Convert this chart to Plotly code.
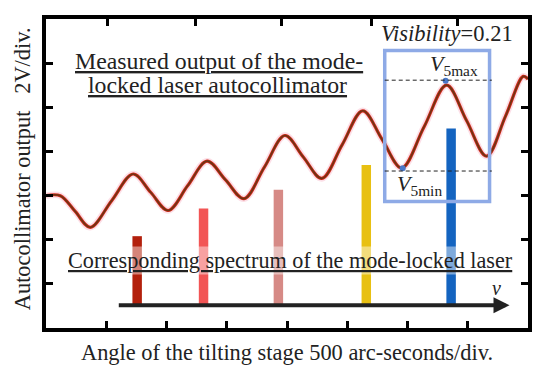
import plotly.graph_objects as go

# ---- data (x in divisions of 500 arc-seconds, y in divisions of 2 V) ----
curve_x = [0.0, 0.237, 0.485, 0.734, 1.09, 1.447, 1.737, 2.027, 2.35, 2.673, 2.98,
           3.286, 3.625, 3.965, 4.27, 4.578, 4.917, 5.257, 5.58, 5.903, 6.276,
           6.649, 6.98, 7.312, 7.627, 7.92, 8.0]
curve_y = [2.997, 2.997, 2.64, 2.281, 2.885, 3.489, 3.075, 2.662, 3.221, 3.780, 3.355,
           2.930, 3.645, 4.361, 3.875, 3.389, 4.155, 4.920, 4.27, 3.623, 4.56,
           5.502, 4.70, 3.892, 4.80, 5.70, 5.64]

bar_x = [1.513, 2.615, 3.857, 5.316, 6.724]
bar_top = [2.080, 2.706, 3.131, 3.690, 4.518]
bar_base = 0.50
bar_colors = ["#b3200c", "#f25555", "#d68a86", "#e8c012", "#1464c0"]

x_ticks_bottom = [1, 2, 3, 4, 5, 6, 7]
x_ticks_top = [1.016, 2.474, 3.915, 5.406, 6.832]
y_ticks = [1, 2, 3, 4, 5, 6]

v_max_level = 5.614
v_min_level = 3.556
v_points_x = [6.633, 5.92]
v_points_y = [5.60, 3.62]

box_x = [5.622, 7.362]
box_y = [2.863, 6.285]
dash_x = [5.622, 7.40]

arrow_x = [1.183, 7.693]
arrow_y = 0.514

FONT = "Times New Roman, Liberation Serif, serif"
TXT = "#222222"


def f(size, **kw):
    return dict(family=FONT, color=TXT, size=size, **kw)


fig = go.Figure()

fig.add_trace(go.Bar(
    x=bar_x, y=[t - bar_base for t in bar_top], base=bar_base, width=0.157,
    marker=dict(color=bar_colors, line=dict(width=0)),
    showlegend=False, hoverinfo="skip"))

# curve: halo, red edge, dark core
fig.add_trace(go.Scatter(x=curve_x, y=curve_y, mode="lines",
                         line=dict(color="rgba(245,150,175,0.30)", width=6.5, shape="spline"),
                         showlegend=False, hoverinfo="skip"))
fig.add_trace(go.Scatter(x=curve_x, y=curve_y, mode="lines",
                         line=dict(color="#d02a1a", width=3.2, shape="spline"),
                         showlegend=False, hoverinfo="skip"))
fig.add_trace(go.Scatter(x=curve_x, y=curve_y, mode="lines",
                         line=dict(color="#6e3414", width=1.6, shape="spline"),
                         showlegend=False, hoverinfo="skip"))

fig.add_trace(go.Scatter(x=v_points_x, y=v_points_y, mode="markers", xaxis="x2",
                         marker=dict(color="#4a78c8", size=6),
                         showlegend=False, hoverinfo="skip"))

# visibility box and dashed levels
fig.add_shape(type="rect", x0=box_x[0], x1=box_x[1], y0=box_y[0], y1=box_y[1],
              line=dict(color="#8eaae6", width=3.5))
for lvl in (v_max_level, v_min_level):
    fig.add_shape(type="line", x0=dash_x[0], x1=dash_x[1], y0=lvl, y1=lvl,
                  line=dict(color="#222222", width=1, dash="4px,3px"))

# frequency axis arrow
fig.add_annotation(x=arrow_x[1], y=arrow_y, ax=arrow_x[0], ay=arrow_y,
                   xref="x", yref="y", axref="x", ayref="y", text="",
                   showarrow=True, arrowhead=2, arrowsize=0.8, arrowwidth=4,
                   arrowcolor="#222222")

C = dict(showarrow=False, xanchor="center", yanchor="middle", xref="x", yref="y")
fig.add_annotation(x=2.875, y=6.039, text="Measured output of the mode-",
                   font=f(23.8, lineposition="under"), **C)
fig.add_annotation(x=2.85, y=5.502, text="locked laser autocollimator",
                   font=f(23.8, lineposition="under"), **C)
fig.add_annotation(x=4.065, y=1.521, text="Corresponding spectrum of the mode-locked laser",
                   bgcolor="rgba(255,255,255,0.45)", font=f(22.2, lineposition="under"), **C)
fig.add_annotation(x=6.658, y=6.665, text="<i>Visibility</i>=0.21", font=f(22.5), **C)
fig.add_annotation(x=6.335, y=5.95, text="<i>V</i><sub>5max</sub>", font=f(22),
                   **{**C, "xanchor": "left"})
fig.add_annotation(x=5.787, y=3.243, text="<i>V</i><sub>5min</sub>", font=f(22),
                   **{**C, "xanchor": "left"})
fig.add_annotation(x=7.478, y=0.895, text="ν", font=f(20, style="italic"), **C)

# axis titles
P = dict(showarrow=False, xanchor="center", yanchor="middle", xref="paper", yref="paper")
fig.add_annotation(x=0.5, y=-0.0799, text="Angle of the tilting stage 500 arc-seconds/div.",
                   font=f(22.4), **P)
fig.add_annotation(x=-0.0497, y=0.514, textangle=-90,
                   text="Autocollimator output\u00a0\u00a0\u00a02V/div.", font=f(22.4), **P)

axis_common = dict(showgrid=False, zeroline=False, showticklabels=False,
                   ticks="inside", ticklen=7, tickwidth=3, tickcolor="black")

# page body has an 8px margin, so the figure is 8px smaller and shifted
fig.update_layout(
    width=542, height=370,
    margin=dict(l=38, r=22, t=7, b=50),
    paper_bgcolor="white", plot_bgcolor="white",
    barmode="overlay",
    xaxis=dict(range=[0, 8], tickvals=x_ticks_bottom, showline=True, linewidth=4,
               linecolor="black", mirror=True, **axis_common),
    xaxis2=dict(range=[0, 8], tickvals=x_ticks_top, overlaying="x", side="top",
                showline=False, **axis_common),
    yaxis=dict(range=[0, 7], tickvals=y_ticks, showline=True, linewidth=4,
               linecolor="black", mirror="ticks", **axis_common),
)

fig.write_html("out.html")
